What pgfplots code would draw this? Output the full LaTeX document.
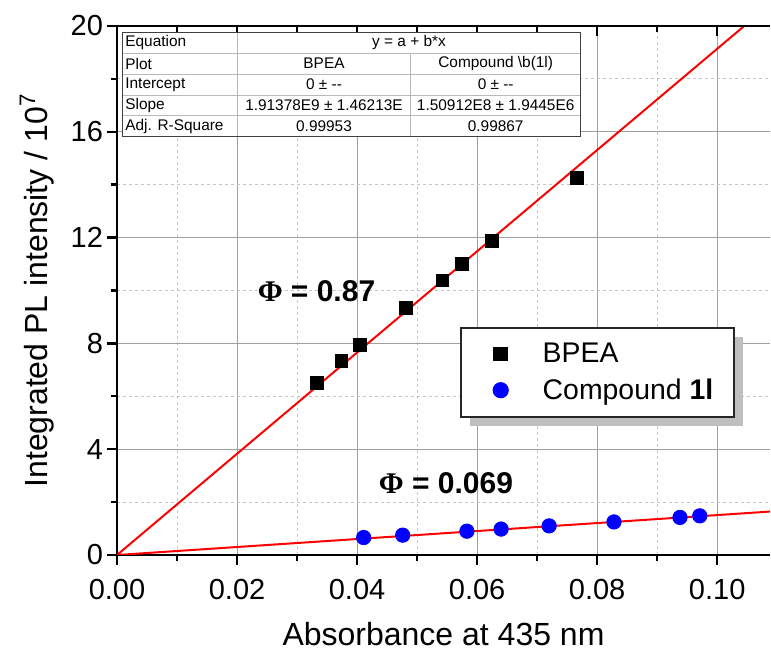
\documentclass[border=0pt]{standalone}
\usepackage{pgfplots}
\usepackage{pgfplotstable}
\pgfplotsset{compat=1.18}
\usepackage{fontspec}
\setmainfont{Liberation Sans}
\newfontfamily\serifphi{Liberation Serif}
\usetikzlibrary{shadows}

\pgfplotstableread{
x y
0.0333 6.50
0.0374 7.35
0.0405 7.95
0.0481 9.35
0.0542 10.38
0.0575 11.00
0.0624 11.88
0.0766 14.27
}\bpea

\pgfplotstableread{
x y
0.0411 0.66
0.0476 0.75
0.0583 0.90
0.0640 0.98
0.0720 1.10
0.0828 1.25
0.0938 1.42
0.0971 1.48
}\cmpd

\begin{document}
\begin{tikzpicture}
\begin{axis}[
  at={(0,0)}, anchor=south west,
  scale only axis, width=326.5pt, height=264.5pt,
  xmin=0, xmax=0.1088, ymin=0, ymax=20,
  xtick={0,0.02,0.04,0.06,0.08,0.10},
  xticklabels={0.00,0.02,0.04,0.06,0.08,0.10},
  ytick={0,4,8,12,16,20},
  minor xtick={0.01,0.03,0.05,0.07,0.09},
  minor ytick={2,6,10,14,18},
  grid=both,
  major grid style={gray!75, line width=0.5pt},
  minor grid style={gray!45, dash pattern=on 1.5pt off 1.5pt, line width=0.5pt},
  axis x line*=bottom, axis y line*=left,
  axis line style={line width=1.3pt},
  tick align=outside,
  major tick length=5pt, minor tick length=3pt,
  every tick/.style={black, line width=1.2pt},
  tick label style={font=\fontsize{14.5}{17}\selectfont},
  xticklabel style={yshift=-3.5pt},
  yticklabel style={xshift=1.5pt},
  /pgf/number format/assume math mode=true,
  xlabel={Absorbance at 435 nm},
  ylabel={Integrated PL intensity / 10\textsuperscript{7}},
  every axis x label/.style={at={(axis description cs:0.5,-0.149)}, anchor=center, font=\fontsize{16}{19}\selectfont},
  every axis y label/.style={at={(axis description cs:-0.1225,0.5)}, rotate=90, anchor=center, font=\fontsize{16}{19}\selectfont},
  legend cell align=left,
  legend image code/.code={%
    \pgfpathmoveto{\pgfpoint{0pt}{-3pt}}\pgfpathlineto{\pgfpoint{28pt}{3pt}}\pgfusepath{discard}%
    \draw[mark repeat=2,mark phase=2,#1] plot coordinates {(0pt,0pt) (14pt,0pt) (28pt,0pt)};},
  legend style={at={(rel axis cs:0.525,0.431)}, anchor=north west,
    draw=black!85, line width=0.9pt, fill=white,
    font=\fontsize{14.2}{17}\selectfont,
    inner xsep=6pt, inner ysep=5.5pt, row sep=2.5pt, column sep=5pt,
    drop shadow={shadow xshift=4.5pt, shadow yshift=-4.5pt, fill=gray!50, opacity=1}},
]
\addplot[red, line width=1pt, forget plot] coordinates {(0,0) (0.1088,20.822)};
\addplot[red, line width=1pt, forget plot] coordinates {(0,0) (0.1088,1.642)};
\addplot[only marks, mark=square*, mark size=3.2pt, black] table {\bpea};
\addlegendentry{BPEA}
\addplot[only marks, mark=*, mark size=3.6pt, blue] table {\cmpd};
\addlegendentry{Compound \textbf{1l}\kern2.5pt}
\end{axis}
\begin{axis}[
  at={(0,0)}, anchor=south west,
  scale only axis, width=326.5pt, height=264.5pt,
  xmin=0, xmax=0.1088, ymin=0, ymax=20,
  axis x line*=top, axis y line=none,
  xtick={0,0.02,0.04,0.06,0.08,0.10}, xticklabels={},
  minor xtick={0.01,0.03,0.05,0.07,0.09},
  ytick=\empty,
  axis line style={line width=1.3pt},
  tick align=inside,
  major tick length=5pt, minor tick length=3pt,
  every tick/.style={black, line width=1.2pt},
]
\end{axis}
\begin{scope}[x=0.5pt, y=-0.5pt, shift={(-117,-555)}]
  \fill[white] (122.3,32.3) rectangle (580.7,136.8);
  \draw[gray!55, line width=0.4pt]
    (122.3,53.2) -- (580.7,53.2)
    (122.3,74.1) -- (580.7,74.1)
    (122.3,95.0) -- (580.7,95.0)
    (122.3,115.9) -- (580.7,115.9)
    (237.3,32.3) -- (237.3,136.8)
    (410.7,53.2) -- (410.7,136.8);
  \draw[black!75, line width=0.6pt] (122.3,32.3) rectangle (580.7,136.8);
  \begin{scope}[every node/.style={font=\fontsize{7.7}{9}\selectfont, inner sep=0pt}]
    \node[anchor=west] at (125,42.75) {Equation};
    \node at (409,42.75) {y = a + b*x};
    \node[anchor=west] at (125,63.65) {Plot};
    \node at (324,63.65) {BPEA};
    \node at (495.7,63.65) {Compound \textbackslash b(1l)};
    \node[anchor=west] at (125,84.55) {Intercept};
    \node at (324,84.55) {0 ± {-}{-}};
    \node at (495.7,84.55) {0 ± {-}{-}};
    \node[anchor=west] at (125,105.45) {Slope};
    \node at (324,105.45) {1.91378E9 ± 1.46213E};
    \node at (495.7,105.45) {1.50912E8 ± 1.9445E6};
    \node[anchor=west] at (125,126.35) {Adj. R-Square};
    \node at (324,126.35) {0.99953};
    \node at (495.7,126.35) {0.99867};
  \end{scope}
  \node[font=\fontsize{15}{18}\selectfont\bfseries] at (316.5,290.7) {{\serifphi\bfseries Φ} = 0.87};
  \node[font=\fontsize{15}{18}\selectfont\bfseries] at (446,483) {{\serifphi\bfseries Φ} = 0.069};
\end{scope}
\pgfresetboundingbox
\path[use as bounding box] (-58.5pt,-48pt) rectangle (327pt,277.5pt);
\end{tikzpicture}
\end{document}
